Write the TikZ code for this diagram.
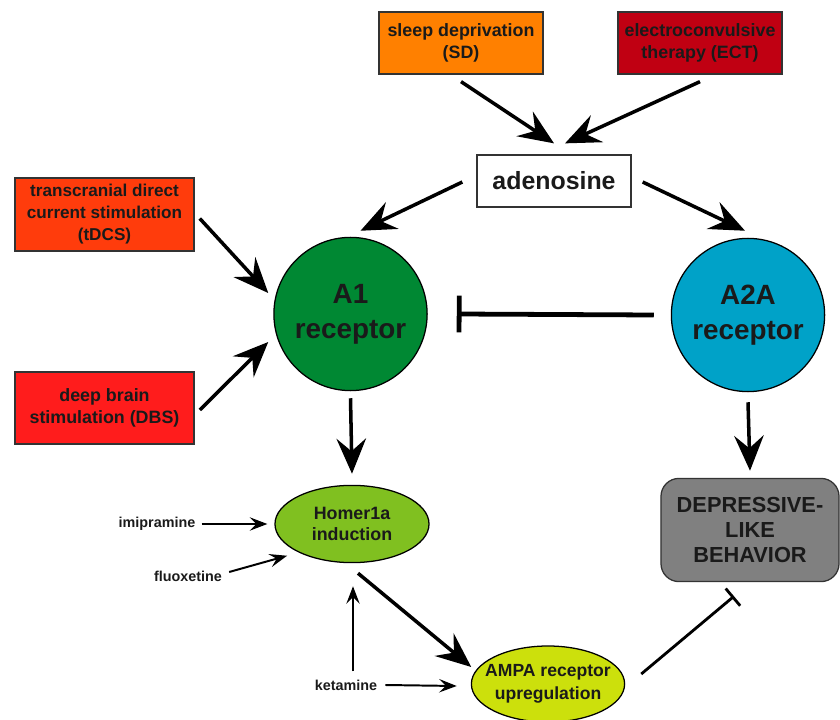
\documentclass[tikz,border=0pt]{standalone}
\usepackage{fontspec}
\setmainfont{Liberation Sans}
\usepackage{tikz}
\usetikzlibrary{positioning, arrows.meta, calc, shapes.geometric}

\definecolor{sdcolor}{HTML}{FF8000}
\definecolor{ectcolor}{HTML}{C00012}
\definecolor{tdcscolor}{HTML}{FF3C0C}
\definecolor{dbscolor}{HTML}{FF1C1C}
\definecolor{aonecolor}{HTML}{008833}
\definecolor{atwocolor}{HTML}{00A2C8}
\definecolor{homercolor}{HTML}{80C020}
\definecolor{ampacolor}{HTML}{CCE00C}
\definecolor{depcolor}{HTML}{808080}
\definecolor{txtcolor}{HTML}{1A1A1A}

\tikzset{
    boxnode/.style={
        rectangle,
        draw=black!80, % 边框颜色
        line width=0.9pt,
        text=txtcolor,
        align=center,
        inner sep=0,
        font=\bfseries\fontsize{12.7}{16}\selectfont
    },
    recnode/.style={
        circle,
        draw=black,
        line width=0.9pt, % 边框
        minimum size=3.83cm,
        inner sep=0,
        align=center,
        text=txtcolor,
        font=\bfseries\fontsize{19.8}{25}\selectfont
    },
    ovalnode/.style={
        ellipse,
        draw=black,
        line width=0.9pt,
        minimum width=3.85cm,
        minimum height=1.93cm,
        inner xsep=-8pt,
        inner ysep=0,
        align=center,
        text=txtcolor,
        font=\bfseries\fontsize{12.7}{15.5}\selectfont
    },
    drugnode/.style={
        inner sep=0,
        text=txtcolor,
        font=\bfseries\fontsize{10.2}{12}\selectfont
    }
}

\begin{document}
\begin{tikzpicture}[
                x=0.025cm, y=-0.025cm,
                bigarrow/.style={-{Stealth[length=25pt, width=21pt, inset=9pt]}, line width=2.5pt},
                thinarrow/.style={-{Stealth[length=12.5pt, width=9.5pt, inset=4.8pt]}, line width=1.4pt},
                bigblock/.style={-{Bar[width=26pt]}, line width=3.4pt},
                thinblock/.style={-{Bar[width=16pt]}, line width=2pt}
            ]
            \useasboundingbox (0,0) rectangle (840,720);
            % 刺激
            \node[boxnode, fill=sdcolor, minimum width=4.1cm, minimum height=1.55cm] (sd) at (461,43) {sleep deprivation\\(SD)};
            \node[boxnode, fill=ectcolor, minimum width=4.1cm, minimum height=1.55cm] (ect) at (700,43) {electroconvulsive\\therapy (ECT)};
            \node[boxnode, fill=white, minimum width=3.85cm, minimum height=1.3cm, font=\bfseries\fontsize{17.7}{20}\selectfont] (aden) at (554,181) {adenosine};
            \node[boxnode, fill=tdcscolor, minimum width=4.48cm, minimum height=1.83cm, font=\bfseries\fontsize{12.2}{15.6}\selectfont] (tdcs) at (104.5,214.5) {transcranial direct\\current stimulation\\(tDCS)};
            \node[boxnode, fill=dbscolor, minimum width=4.48cm, minimum height=1.8cm] (dbs) at (104.5,408) {deep brain\\stimulation (DBS)};
            % 受体
            \node[recnode, fill=aonecolor] (a1) at (350.5,314) {A1\\receptor};
            \node[recnode, fill=atwocolor] (a2a) at (748,315) {A2A\\receptor};
            \node[ovalnode, fill=homercolor] (homer) at (352,524) {Homer1a\\induction};
            \node[ovalnode, fill=ampacolor, minimum width=3.83cm, minimum height=1.9cm, font=\bfseries\fontsize{12.5}{16.5}\selectfont] (ampa) at (548,684) {AMPA receptor\\upregulation};
            \node[boxnode, fill=depcolor, rounded corners=0.45cm, minimum width=4.45cm, minimum height=2.58cm, font=\bfseries\fontsize{15.5}{18}\selectfont] (dep) at (750,530) {DEPRESSIVE-\\LIKE\\BEHAVIOR};
            % 药物
            \node[drugnode] (imip) at (157,524) {imipramine};
            \node[drugnode] (fluox) at (188,576) {fluoxetine};
            \node[drugnode] (ket) at (346,685) {ketamine};

            \draw[bigarrow] ($(sd.south)+(0,7)$) -- ($(aden.north)+(0,-11)$);
            \draw[bigarrow] ($(ect.south)+(0,7)$) -- ($(aden.north)+(11,-11)$);
            \draw[bigarrow] ($(aden.west)+(-14,1)$) -- ($(a1.north)+(10,-6)$);
            \draw[bigarrow] ($(aden.east)+(11,1)$) -- ($(a2a.north)+(-3,-7)$);
            \draw[bigarrow] ($(tdcs.east)+(5,4)$) -- ($(a1.west)+(-5,-21)$);
            \draw[bigarrow] ($(dbs.east)+(5,2)$) -- ($(a1.west)+(-5,28)$);
            \draw[bigblock] ($(a2a.west)+(-17,0)$) -- ($(a1.east)+(29,0)$);
            \draw[bigarrow] ($(a1.south)+(0,7)$) -- ($(homer.north)+(0,-11)$);
            \draw[bigarrow] ($(a2a.south)+(0,10)$) -- ($(dep.north)+(0,-7)$);
            \draw[bigarrow] ($(homer.south)+(6,10)$) -- ($(ampa.west)+(0.5,-17)$);
            \draw[thinblock] ($(ampa.east)+(16,-10)$) -- ($(dep.south)+(-16,14)$);
            \draw[thinarrow] ($(imip.east)+(6,0)$) -- ($(homer.west)+(-7,0)$);
            \draw[thinarrow] ($(fluox.east)+(7,-4)$) -- ($(homer.south west)+(-10,4)$);
            \draw[thinarrow] ($(ket.east)+(8,0)$) -- ($(ampa.west)+(-14,2)$);
            \draw[thinarrow] ($(ket.north)+(7,-8)$) -- ($(homer.south)+(1,23)$);
\end{tikzpicture}
\end{document}
